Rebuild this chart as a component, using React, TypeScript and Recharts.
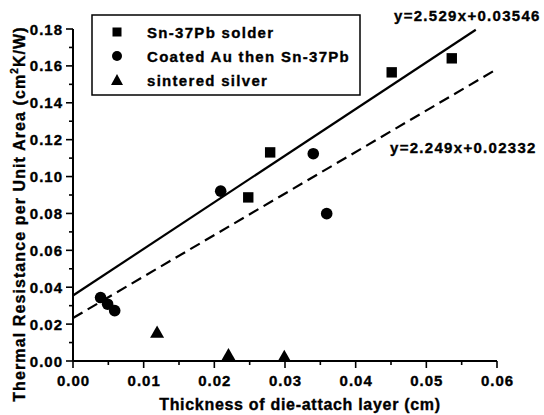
import React from 'react';
import { ScatterChart, Scatter, XAxis, YAxis } from 'recharts';

// ---- data ----
const solderX = [0.0248, 0.0279, 0.0451, 0.0536];
const solderY = [0.0887, 0.1131, 0.1565, 0.1641];
const coatedX = [0.0039, 0.0049, 0.0059, 0.0209, 0.034, 0.0359];
const coatedY = [0.0344, 0.0308, 0.0273, 0.0921, 0.1124, 0.0799];
const silverX = [0.0119, 0.022, 0.0299];
const silverY = [0.0152, 0.003, 0.002];

// fitted lines (end points)
const fitSolidX = [0, 0.057];
const fitSolidY = [0.0355, 0.1796];
const fitDashX = [0, 0.06];
const fitDashY = [0.0233, 0.1583];

const xTicks = [0, 0.005, 0.01, 0.015, 0.02, 0.025, 0.03, 0.035, 0.04, 0.045, 0.05, 0.055, 0.06];
const yTicks = [0, 0.01, 0.02, 0.03, 0.04, 0.05, 0.06, 0.07, 0.08, 0.09, 0.1, 0.11, 0.12, 0.13, 0.14, 0.15, 0.16, 0.17, 0.18];

const seriesNames = ['Sn-37Pb solder', 'Coated Au then Sn-37Pb', 'sintered silver'];
const equations = ['y=2.529x+0.03546', 'y=2.249x+0.02332'];
const xTitle = 'Thickness of die-attach layer (cm)';
const yTitleMain = 'Thermal Resistance per Unit Area (cm';
const yTitleSup = '2';
const yTitleEnd = 'K/W)';

const zip = (xs: number[], ys: number[]) => xs.map((x, i) => ({ x, y: ys[i] }));
const solderData = zip(solderX, solderY);
const coatedData = zip(coatedX, coatedY);
const silverData = zip(silverX, silverY);
const fitSolid = zip(fitSolidX, fitSolidY);
const fitDash = zip(fitDashX, fitDashY);

const FONT = '"Liberation Sans", Arial, Helvetica, sans-serif';

const SquareShape = (p: any) => (
  <rect x={p.cx - 5.2} y={p.cy - 5.2} width={10.4} height={10.4} fill="#000" />
);
const CircleShape = (p: any) => <circle cx={p.cx} cy={p.cy} r={5.8} fill="#000" />;
const TriangleShape = (p: any) => (
  <polygon
    points={`${p.cx},${p.cy - 7.5} ${p.cx - 7},${p.cy + 4.8} ${p.cx + 7},${p.cy + 4.8}`}
    fill="#000"
  />
);
const NoShape = () => <g />;

const fmt = (v: number) => v.toFixed(2);

const textStyle = {
  fontFamily: FONT,
  fontWeight: 'bold' as const,
  fill: '#000',
  stroke: '#000',
  strokeWidth: 0.35,
};

const XTick = (props: any) => {
  const { x, y, payload, index } = props;
  const major = index % 2 === 0;
  return (
    <g>
      <line x1={x} x2={x} y1={y} y2={y + (major ? 7 : 4)} stroke="#000" strokeWidth={1.6} />
      {major && (
        <text x={x + 0.5} y={y + 25} textAnchor="middle" fontSize={15} letterSpacing={1} {...textStyle}>
          {fmt(payload.value)}
        </text>
      )}
    </g>
  );
};

const YTick = (props: any) => {
  const { x, y, payload, index } = props;
  const major = index % 2 === 0;
  return (
    <g>
      <line x1={x} x2={x - (major ? 7 : 4)} y1={y} y2={y} stroke="#000" strokeWidth={1.6} />
      {major && (
        <text x={x - 10} y={y + 5.5} textAnchor="end" fontSize={15} letterSpacing={1} {...textStyle}>
          {fmt(payload.value)}
        </text>
      )}
    </g>
  );
};

export default function App() {
  return (
    <div style={{ position: 'absolute', left: 0, top: 0, width: 544, height: 415, background: '#fff' }}>
      <ScatterChart width={544} height={415} margin={{ top: 29, right: 47, bottom: 0, left: 0 }}>
        <XAxis
          type="number"
          dataKey="x"
          domain={[0, 0.06]}
          ticks={xTicks}
          interval={0}
          height={54}
          tickSize={0}
          tickMargin={0}
          tickLine={false}
          axisLine={{ stroke: '#000', strokeWidth: 2 }}
          tick={XTick}
        />
        <YAxis
          type="number"
          dataKey="y"
          domain={[0, 0.18]}
          ticks={yTicks}
          interval={0}
          width={73}
          tickSize={0}
          tickMargin={0}
          tickLine={false}
          axisLine={{ stroke: '#000', strokeWidth: 2 }}
          tick={YTick}
        />
        <Scatter
          data={fitSolid}
          line={{ stroke: '#000', strokeWidth: 2.2 }}
          shape={NoShape}
          isAnimationActive={false}
          legendType="none"
        />
        <Scatter
          data={fitDash}
          line={{ stroke: '#000', strokeWidth: 2.2, strokeDasharray: '11 6' }}
          shape={NoShape}
          isAnimationActive={false}
          legendType="none"
        />
        <Scatter name={seriesNames[0]} data={solderData} shape={SquareShape} isAnimationActive={false} />
        <Scatter name={seriesNames[1]} data={coatedData} shape={CircleShape} isAnimationActive={false} />
        <Scatter name={seriesNames[2]} data={silverData} shape={TriangleShape} isAnimationActive={false} />
      </ScatterChart>
      <svg
        width={544}
        height={415}
        style={{ position: 'absolute', left: 0, top: 0, pointerEvents: 'none' }}
      >
        {/* legend */}
        <rect x={92} y={15} width={268} height={80} fill="none" stroke="#000" strokeWidth={1.5} />
        <rect x={112.5} y={27.5} width={9} height={9} fill="#000" />
        <circle cx={117} cy={56} r={5} fill="#000" />
        <polygon points="117,74 111,85 123,85" fill="#000" />
        {seriesNames.map((n, i) => (
          <text key={n} x={147} y={37.5 + i * 24} fontSize={15} letterSpacing={1.3} {...textStyle}>
            {n}
          </text>
        ))}
        {/* equations */}
        <text x={394} y={20.5} fontSize={15} letterSpacing={1.3} {...textStyle}>
          {equations[0]}
        </text>
        <text x={390} y={152.5} fontSize={15} letterSpacing={1.3} {...textStyle}>
          {equations[1]}
        </text>
        {/* axis titles */}
        <text x={300} y={410} textAnchor="middle" fontSize={16} letterSpacing={0.7} {...textStyle}>
          {xTitle}
        </text>
        <text
          x={25}
          y={214}
          transform="rotate(-90 25 214)"
          textAnchor="middle"
          fontSize={16}
          letterSpacing={1.1}
          {...textStyle}
        >
          {yTitleMain}
          <tspan fontSize={10} dy={-7}>{yTitleSup}</tspan>
          <tspan dy={7}>{yTitleEnd}</tspan>
        </text>
      </svg>
    </div>
  );
}
